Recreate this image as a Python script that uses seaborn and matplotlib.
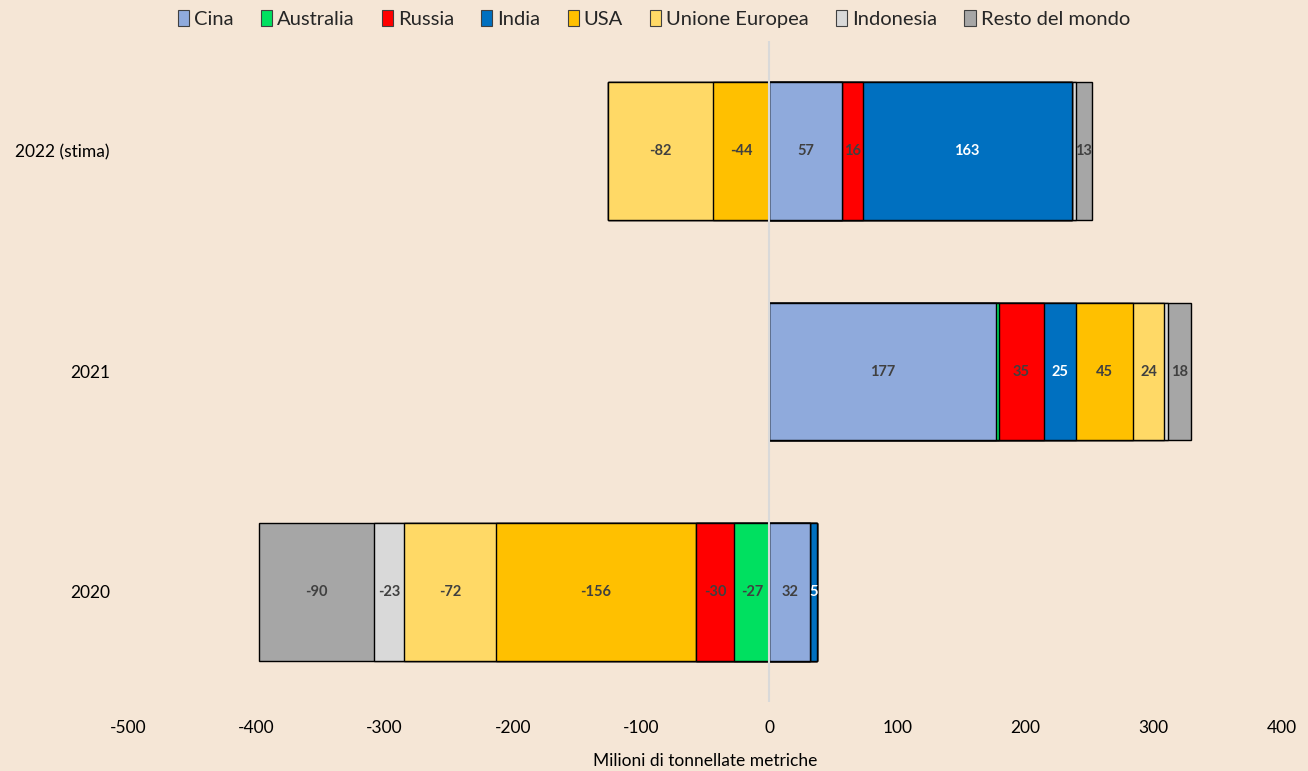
import matplotlib
matplotlib.use("Agg")
import matplotlib.pyplot as plt
import matplotlib.patches as mpatches
import seaborn as sns
import numpy as np
import pandas as pd

years = ["2022 (stima)", "2021", "2020"]
series = ["Cina", "Australia", "Russia", "India", "USA", "Unione Europea", "Indonesia", "Resto del mondo"]
cina = [57, 177, 32]
australia = [0, 2, -27]
russia = [16, 35, -30]
india = [163, 25, 5]
usa = [-44, 45, -156]
ue = [-82, 24, -72]
indonesia = [3, 3, -23]
resto = [13, 18, -90]
colors = ["#8FAADC", "#00E060", "#FF0000", "#0070C0", "#FFC000", "#FFD966", "#D9D9D9", "#A6A6A6"]
label_colors = ["#404040", "#404040", "#404040", "#FFFFFF", "#404040", "#404040", "#404040", "#404040"]
xticks = [-500, -400, -300, -200, -100, 0, 100, 200, 300, 400]

values = np.array([cina, australia, russia, india, usa, ue, indonesia, resto], dtype=float)
bg = "#F5E6D6"

sns.set_theme(style="white")
plt.rcParams["font.family"] = ["Lato", "DejaVu Sans"]

fig = plt.figure(figsize=(13.08, 7.71), dpi=100)
fig.patch.set_facecolor(bg)
ax = fig.add_axes([128 / 1308, 1 - 702 / 771, (1282 - 128) / 1308, (702 - 41) / 771])
ax.set_facecolor(bg)

pos = np.clip(values, 0, None)
neg = np.clip(values, None, 0)
cum_pos = np.cumsum(pos, axis=0)
cum_neg = np.cumsum(neg, axis=0)

# draw outer layers first so inner segments overlay them
for i in reversed(range(len(series))):
    for cum in (cum_pos, cum_neg):
        df = pd.DataFrame({"anno": years, "v": cum[i]})
        sns.barplot(data=df, x="v", y="anno", orient="h", color=colors[i], saturation=1,
                    edgecolor="black", linewidth=1.0, width=0.626, ax=ax, order=years)

# labels
for i in range(len(series)):
    for j in range(len(years)):
        v = values[i, j]
        if abs(v) < 5:
            continue
        if v > 0:
            center = cum_pos[i, j] - v / 2
        else:
            center = cum_neg[i, j] - v / 2
        ax.text(center, j, f"{int(v)}", ha="center", va="center", fontsize=10.5,
                fontweight="bold", color=label_colors[i])

ax.axvline(0, color="#D9D9D9", lw=1.5, zorder=5)
ax.set_xlim(-500, 400)
ax.set_ylim(2.5, -0.5)
ax.set_xticks(xticks)
ax.set_xticklabels([str(t) for t in xticks], fontsize=12.5, color="black")
ax.tick_params(axis="y", labelsize=12.5, colors="black", pad=13, length=0)
ax.tick_params(axis="x", length=0, pad=13)
ax.set_ylabel("")
ax.set_xlabel("Milioni di tonnellate metriche", fontsize=12.5, color="black", labelpad=12)
for s in ax.spines.values():
    s.set_visible(False)

handles = [mpatches.Patch(facecolor=c, edgecolor="#404040", linewidth=0.8, label=s)
           for s, c in zip(series, colors)]
fig.legend(handles=handles, loc="center", bbox_to_anchor=(0.5, 1 - 19 / 771), ncol=8,
           frameon=False, fontsize=14.5, handlelength=0.55, handleheight=0.85,
           handletextpad=0.25, columnspacing=1.35)

fig.savefig("out.png", dpi=100, facecolor=bg)
